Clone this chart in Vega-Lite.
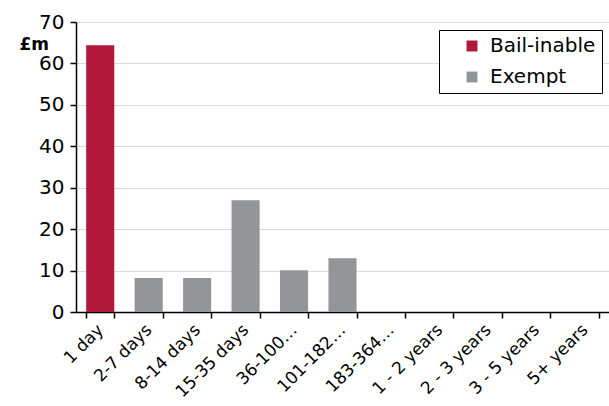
{
  "$schema": "https://vega.github.io/schema/vega-lite/v6.json",
  "width": 533,
  "height": 290,
  "autosize": {"type": "none"},
  "padding": {"left": 76, "top": 22, "right": 0, "bottom": 94},
  "background": "white",
  "config": {
    "font": "DejaVu Sans",
    "view": {"stroke": null}
  },
  "data": {
    "values": [
      {"bucket": "1 day", "value": 64.4, "type": "Bail-inable"},
      {"bucket": "2-7 days", "value": 8.2, "type": "Exempt"},
      {"bucket": "8-14 days", "value": 8.2, "type": "Exempt"},
      {"bucket": "15-35 days", "value": 27.0, "type": "Exempt"},
      {"bucket": "36-100 days", "value": 10.1, "type": "Exempt"},
      {"bucket": "101-182 days", "value": 13.0, "type": "Exempt"},
      {"bucket": "183-364 days", "value": 0, "type": "Exempt"},
      {"bucket": "1 - 2 years", "value": 0, "type": "Exempt"},
      {"bucket": "2 - 3 years", "value": 0, "type": "Exempt"},
      {"bucket": "3 - 5 years", "value": 0, "type": "Exempt"},
      {"bucket": "5+ years", "value": 0, "type": "Exempt"}
    ]
  },
  "mark": {"type": "bar"},
  "encoding": {
    "x": {
      "field": "bucket",
      "type": "nominal",
      "sort": null,
      "scale": {"paddingInner": 0.42, "paddingOuter": 0.21},
      "axis": {
        "title": null,
        "labelAngle": -45,
        "labelAlign": "right",
        "labelBaseline": "middle",
        "labelFontSize": 17,
        "labelColor": "black",
        "labelPadding": 9,
        "labelExpr": "test(/^\\d+-\\d{3} /, datum.label) ? replace(datum.label, ' days', '…') : datum.label",
        "tickBand": "extent",
        "tickColor": "black",
        "tickSize": 6,
        "domainColor": "black",
        "domainWidth": 1.5,
        "tickWidth": 1.5
      }
    },
    "y": {
      "field": "value",
      "type": "quantitative",
      "scale": {"domain": [0, 70], "nice": false},
      "axis": {
        "title": "£m",
        "titleAngle": 0,
        "titleX": -57,
        "titleY": 22,
        "titleAlign": "left",
        "titleBaseline": "middle",
        "titleFontSize": 17,
        "titleFontWeight": "bold",
        "titleColor": "black",
        "values": [0, 10, 20, 30, 40, 50, 60, 70],
        "labelFontSize": 20,
        "labelColor": "black",
        "labelPadding": 6,
        "tickColor": "black",
        "tickSize": 6,
        "tickWidth": 1.5,
        "domainColor": "black",
        "domainWidth": 1.5,
        "grid": true,
        "gridColor": "#d9d9d9",
        "gridWidth": 1
      }
    },
    "color": {
      "field": "type",
      "type": "nominal",
      "scale": {"domain": ["Bail-inable", "Exempt"], "range": ["#b0193a", "#939598"]},
      "legend": {
        "title": null,
        "orient": "none",
        "legendX": 363,
        "legendY": 8,
        "strokeColor": "black",
        "fillColor": "white",
        "padding": 6,
        "symbolOffset": 17,
        "symbolType": "square",
        "symbolSize": 120,
        "symbolStrokeWidth": 0,
        "labelFontSize": 20,
        "labelColor": "black",
        "labelOffset": 8,
        "rowPadding": 11,
        "labelLimit": 200
      }
    }
  }
}
